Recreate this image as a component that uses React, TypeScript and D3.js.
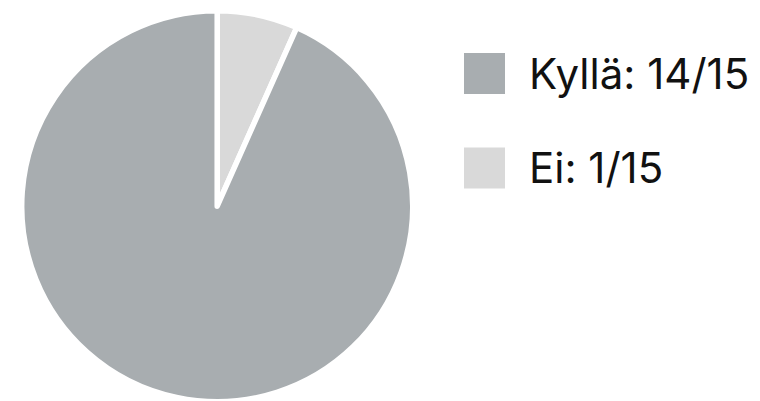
import React from "react";
import * as d3 from "d3";

const labels = ["Kyllä", "Ei"];
const values = [14, 1];
const colors = ["#a8adb0", "#d9d9d9"];

export default function App() {
  const width = 760, height = 401;
  const cx = 217.2, cy = 206.2, r = 195.5;
  const total = d3.sum(values);
  const pie = d3.pie<number>().sort(null).startAngle(0).endAngle(2 * Math.PI);
  // Ei slice starts at top, going clockwise; Kyllä after
  const order = [1, 0];
  const arcs = pie(order.map((i) => values[i]));
  const arc = d3.arc<d3.PieArcDatum<number>>().innerRadius(0).outerRadius(r);
  return (
    <svg width={width} height={height} style={{ position: "absolute", left: 0, top: 0 }}>
      <rect width={width} height={height} fill="#fff" />
      <g transform={`translate(${cx},${cy})`}>
        {arcs.map((a, k) => (
          <path key={k} d={arc(a) || ""} fill={colors[order[k]]} stroke="#fff" strokeWidth={5.5} strokeLinejoin="round" />
        ))}
      </g>
      {labels.map((l, i) => (
        <g key={l} transform={`translate(464,${53 + i * 94.5})`}>
          <rect width={41} height={41} fill={colors[i]} />
          <text x={65} y={35.5} fontFamily="Inter" fontSize={42} fill="#111">
            {`${l}: ${values[i]}/${total}`}
          </text>
        </g>
      ))}
    </svg>
  );
}
